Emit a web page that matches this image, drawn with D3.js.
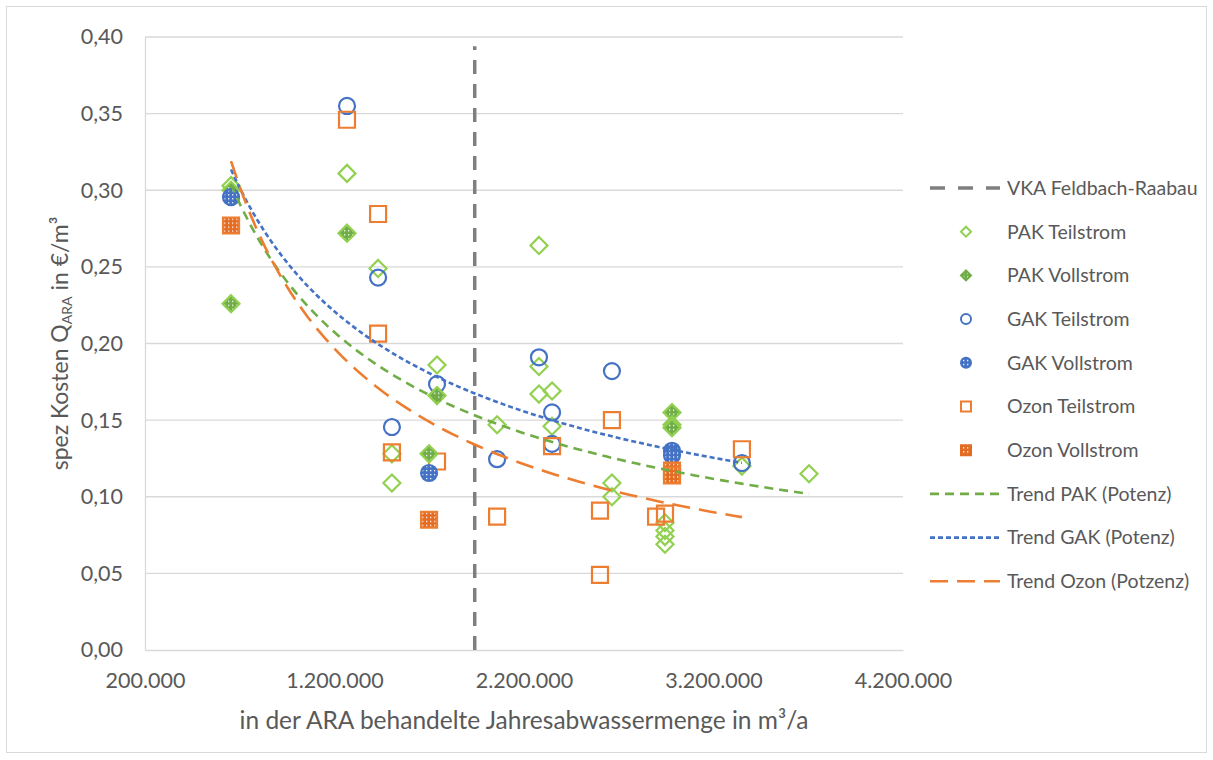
<!DOCTYPE html>
<html>
<head>
<meta charset="utf-8">
<script src="https://cdn.jsdelivr.net/npm/d3@7"></script>
<style>
  body { margin: 0; background: #fff; }
  text { font-family: "Lato", "Open Sans", sans-serif; fill: #595959; }
</style>
</head>
<body>
<svg id="chart" width="1213" height="760"></svg>
<script>
// values (x in m³/a, y in €/m³)
const pakTeilX = [654000, 1266000, 1430000, 1741000, 1503000, 1503000, 2058000, 2279000, 2279000, 2279000, 2348000, 2348000, 2664000, 2664000, 2944000, 2944000, 2944000, 2944000, 3350000, 3704000];
const pakTeilY = [0.303, 0.311, 0.249, 0.186, 0.128, 0.109, 0.147, 0.264, 0.185, 0.167, 0.169, 0.146, 0.109, 0.100, 0.083, 0.078, 0.074, 0.069, 0.120, 0.115];
const pakVollX = [654000, 654000, 1266000, 1741000, 1699000, 2981000, 2981000, 2981000];
const pakVollY = [0.300, 0.226, 0.272, 0.166, 0.128, 0.155, 0.147, 0.145];
const gakTeilX = [1266000, 1430000, 1741000, 1503000, 2058000, 2279000, 2348000, 2348000, 2664000, 3350000];
const gakTeilY = [0.355, 0.243, 0.1735, 0.1455, 0.1245, 0.191, 0.155, 0.1345, 0.182, 0.122];
const gakVollX = [654000, 1699000, 2981000, 2981000];
const gakVollY = [0.2955, 0.1155, 0.130, 0.127];
const ozonTeilX = [1266000, 1430000, 1430000, 1503000, 1741000, 2058000, 2348000, 2664000, 2601000, 2601000, 2897000, 2944000, 3350000];
const ozonTeilY = [0.346, 0.2845, 0.2065, 0.129, 0.123, 0.087, 0.133, 0.150, 0.091, 0.049, 0.087, 0.089, 0.131];
const ozonVollX = [654000, 1699000, 2981000, 2981000];
const ozonVollY = [0.277, 0.085, 0.117, 0.114];

const vkaX = 1940000;
const xTicks = [200000, 1200000, 2200000, 3200000, 4200000];
const yTicks = [0, 0.05, 0.10, 0.15, 0.20, 0.25, 0.30, 0.35, 0.40];

const legendLabels = ["VKA Feldbach-Raabau", "PAK Teilstrom", "PAK Vollstrom", "GAK Teilstrom", "GAK Vollstrom",
  "Ozon Teilstrom", "Ozon Vollstrom", "Trend PAK (Potenz)", "Trend GAK (Potenz)", "Trend Ozon (Potzenz)"];

const green = "#92D050", darkGreen = "#70AD47", blue = "#4472C4", orange = "#ED7D31", darkOrange = "#E46C22";

const svg = d3.select("#chart");
const margin = { left: 145, right: 903, top: 37, bottom: 650 };

const x = d3.scaleLinear().domain([200000, 4200000]).range([margin.left, margin.right]);
const y = d3.scaleLinear().domain([0, 0.4]).range([margin.bottom, margin.top]);

const de = d3.formatLocale({ decimal: ",", thousands: ".", grouping: [3], currency: ["", "€"] });

// chart border
svg.append("rect").attr("x", 6.5).attr("y", 6.5).attr("width", 1200).attr("height", 746)
  .attr("fill", "#fff").attr("stroke", "#D9D9D9");

// patterns for the "Vollstrom" markers
const defs = svg.append("defs");
function dotPattern(id, color) {
  const p = defs.append("pattern").attr("id", id).attr("patternUnits", "userSpaceOnUse")
    .attr("width", 4).attr("height", 4);
  p.append("rect").attr("width", 4).attr("height", 4).attr("fill", color);
  p.append("rect").attr("x", 1).attr("y", 1).attr("width", 1.3).attr("height", 1.3).attr("fill", "#fff");
}
dotPattern("patGreen", darkGreen);
dotPattern("patBlue", blue);
dotPattern("patOrange", darkOrange);

// gridlines
svg.append("g").selectAll("line").data(yTicks.slice(1)).enter().append("line")
  .attr("x1", margin.left).attr("x2", margin.right)
  .attr("y1", d => y(d)).attr("y2", d => y(d))
  .attr("stroke", "#D9D9D9").attr("stroke-width", 1.3);

// axes
const yAxis = svg.append("g").attr("transform", `translate(${margin.left},0)`)
  .call(d3.axisLeft(y).tickValues(yTicks).tickSize(0).tickPadding(22).tickFormat(de.format(".2f")));
yAxis.select(".domain").attr("stroke", "#D9D9D9").attr("stroke-width", 1.3);
yAxis.selectAll("text").attr("font-size", 21.5).attr("fill", "#595959").style("font-family", "Lato");

const xAxis = svg.append("g").attr("transform", `translate(0,${margin.bottom})`)
  .call(d3.axisBottom(x).tickValues(xTicks).tickSize(0).tickPadding(23).tickFormat(de.format(",d")));
xAxis.select(".domain").attr("stroke", "#D9D9D9").attr("stroke-width", 1.3);
xAxis.selectAll("text").attr("font-size", 21.5).attr("fill", "#595959").style("font-family", "Lato");

// axis titles
svg.append("text").attr("x", (margin.left + margin.right) / 2).attr("y", 729)
  .attr("text-anchor", "middle").attr("font-size", 24.5)
  .text("in der ARA behandelte Jahresabwassermenge in m³/a");

const yt = svg.append("text").attr("transform", `translate(68,${(margin.top + margin.bottom) / 2}) rotate(-90)`)
  .attr("text-anchor", "middle").attr("font-size", 23);
yt.append("tspan").text("spez Kosten Q");
yt.append("tspan").attr("font-size", 14).attr("dy", 4).text("ARA");
yt.append("tspan").attr("dy", -4).text(" in €/m³");

// VKA line
svg.append("line").attr("x1", x(vkaX)).attr("x2", x(vkaX)).attr("y1", y(0)).attr("y2", y(0.394))
  .attr("stroke", "#7F7F7F").attr("stroke-width", 3.5).attr("stroke-dasharray", "14,10");

// power trend (least squares in log-log space, as the spreadsheet does)
function powerFit(xs, ys) {
  const lx = xs.map(Math.log), ly = ys.map(Math.log);
  const mx = d3.mean(lx), my = d3.mean(ly);
  const b = d3.sum(lx, (v, i) => (v - mx) * (ly[i] - my)) / d3.sum(lx, v => (v - mx) * (v - mx));
  const a = Math.exp(my - b * mx);
  const ext = d3.extent(xs);
  return d3.range(0, 61).map(i => {
    const xv = ext[0] + (ext[1] - ext[0]) * i / 60;
    return [xv, a * Math.pow(xv, b)];
  });
}
const line = d3.line().x(d => x(d[0])).y(d => y(d[1]));
const trends = [
  { pts: powerFit(pakTeilX.concat(pakVollX), pakTeilY.concat(pakVollY)), color: darkGreen, dash: "9,6" },
  { pts: powerFit(gakTeilX.concat(gakVollX), gakTeilY.concat(gakVollY)), color: blue, dash: "5,3" },
  { pts: powerFit(ozonTeilX.concat(ozonVollX), ozonTeilY.concat(ozonVollY)), color: orange, dash: "18,9" }
];

// markers
const diamond = "M0,-8.5L8.5,0L0,8.5L-8.5,0Z";
const circle = d3.symbol().type(d3.symbolCircle).size(Math.PI * 8 * 8)();
const square = "M-8,-8H8V8H-8Z";
const series = [
  { xs: pakTeilX, ys: pakTeilY, path: diamond, fill: "none", stroke: green },
  { xs: gakTeilX, ys: gakTeilY, path: circle, fill: "none", stroke: blue },
  { xs: ozonTeilX, ys: ozonTeilY, path: square, fill: "none", stroke: orange },
  { xs: pakVollX, ys: pakVollY, path: diamond, fill: "url(#patGreen)", stroke: green },
  { xs: gakVollX, ys: gakVollY, path: circle, fill: "url(#patBlue)", stroke: blue },
  { xs: ozonVollX, ys: ozonVollY, path: square, fill: "url(#patOrange)", stroke: orange }
];
series.forEach(s => {
  svg.append("g").selectAll("path").data(s.xs.map((v, i) => [v, s.ys[i]])).enter().append("path")
    .attr("d", s.path).attr("transform", d => `translate(${x(d[0])},${y(d[1])})`)
    .attr("fill", s.fill).attr("stroke", s.stroke).attr("stroke-width", 2.2);
});

trends.forEach(t => {
  svg.append("path").attr("d", line(t.pts)).attr("fill", "none")
    .attr("stroke", t.color).attr("stroke-width", 2.6).attr("stroke-dasharray", t.dash);
});

// legend
const lg = svg.append("g");
const ly0 = 188, lstep = 43.7, lsx = 966;
const smallCircle = d3.symbol().type(d3.symbolCircle).size(Math.PI * 25)();
const legendMarks = [
  { type: "line", color: "#7F7F7F", dash: "15,13", w: 3.5 },
  { type: "mark", path: "M0,-5L5,0L0,5L-5,0Z", fill: "none", stroke: green },
  { type: "mark", path: "M0,-5L5,0L0,5L-5,0Z", fill: "url(#patGreen)", stroke: darkGreen },
  { type: "mark", path: smallCircle, fill: "none", stroke: blue },
  { type: "mark", path: smallCircle, fill: "url(#patBlue)", stroke: blue },
  { type: "mark", path: "M-5,-5H5V5H-5Z", fill: "none", stroke: orange },
  { type: "mark", path: "M-5,-5H5V5H-5Z", fill: "url(#patOrange)", stroke: darkOrange },
  { type: "line", color: darkGreen, dash: "9,6", w: 2.6 },
  { type: "line", color: blue, dash: "5,3", w: 2.6 },
  { type: "line", color: orange, dash: "18,9", w: 2.6 }
];
legendLabels.forEach((lab, i) => {
  const cy = ly0 + i * lstep;
  const m = legendMarks[i];
  if (m.type === "line") {
    lg.append("line").attr("x1", 930).attr("x2", 1000).attr("y1", cy).attr("y2", cy)
      .attr("stroke", m.color).attr("stroke-width", m.w).attr("stroke-dasharray", m.dash);
  } else {
    lg.append("path").attr("d", m.path).attr("transform", `translate(${lsx},${cy})`)
      .attr("fill", m.fill).attr("stroke", m.stroke).attr("stroke-width", 2);
  }
  lg.append("text").attr("x", 1007).attr("y", cy).attr("dy", "0.35em").attr("font-size", 19.5).text(lab);
});
</script>
</body>
</html>
